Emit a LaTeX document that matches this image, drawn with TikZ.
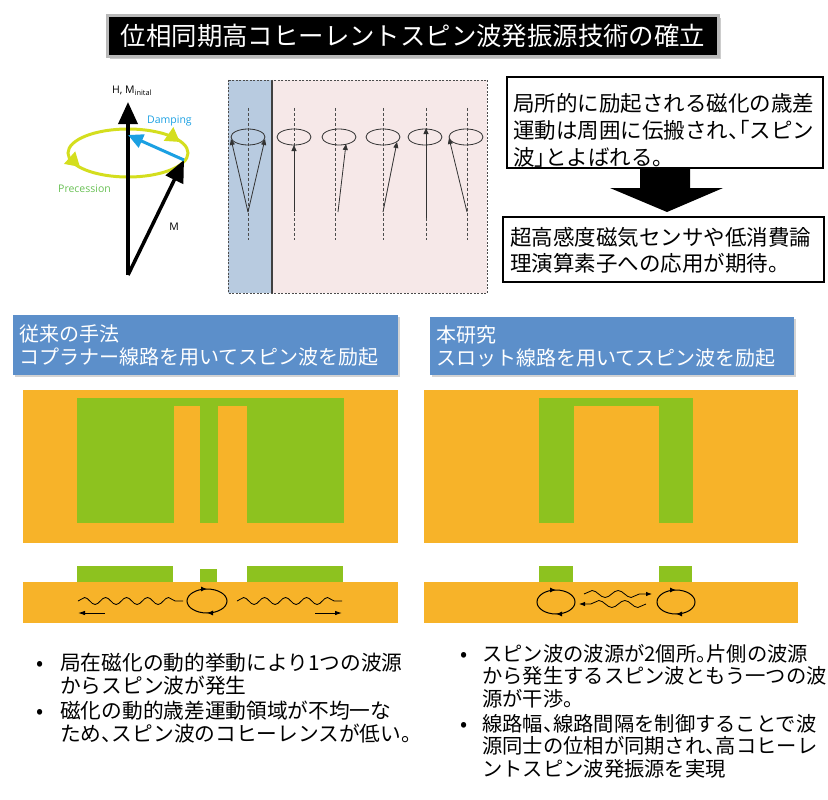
\documentclass[tikz,border=0pt]{standalone}
\usepackage{fontspec}
\setmainfont{Noto Sans CJK JP}[RawFeature=+halt]
\newfontfamily\labelfont{Open Sans}
\usetikzlibrary{arrows.meta,decorations.markings,decorations.pathmorphing,shadows}

\definecolor{film}{RGB}{247,179,41}
\definecolor{metal}{RGB}{141,194,31}
\definecolor{headblue}{RGB}{92,143,202}
\definecolor{drivezone}{RGB}{184,203,224}
\definecolor{spreadzone}{RGB}{246,232,232}
\definecolor{precyellow}{RGB}{212,222,30}
\definecolor{dampblue}{RGB}{27,160,226}
\definecolor{precgreen}{RGB}{104,192,84}

\begin{document}
\begin{tikzpicture}%
	[x=1pt, y=-1pt,
	title/.style={fill=black, draw=gray!55, line width=2.5pt, text=white, minimum width=611pt, minimum height=41pt, inner sep=0pt, font=\fontsize{25.4}{30}\selectfont, drop shadow={shadow xshift=2pt, shadow yshift=-3pt, opacity=.4}},
	header/.style={fill=headblue, text=white, anchor=north west, inner xsep=6pt, inner ysep=0pt, align=left, font=\fontsize{20}{23}\selectfont, drop shadow={shadow xshift=2pt, shadow yshift=-2pt, opacity=.35}},
	note/.style={anchor=base west, inner sep=0pt, align=left, font=\fontsize{21.5}{27}\selectfont},
	frame/.style={draw=black, line width=1.6pt},
	item/.style={anchor=base west, inner sep=0pt, align=left, font=\fontsize{20.7}{23.3}\selectfont},
	dot/.style={anchor=base, inner sep=0pt, font=\fontsize{21}{23}\selectfont},
	vlabel/.style={inner sep=0pt, font=\labelfont\fontsize{10.5}{12}\selectfont},
	bigvec/.style={line width=3.5pt, -{Triangle[width=19pt,length=22pt]}},
	turn/.style={precyellow, line width=3pt, -{Triangle[width=16pt,length=14pt]}},
	spin/.style={line width=.8pt, draw=black!80, -{Triangle[width=5pt,length=6pt]}},
	axis/.style={densely dashed, line width=.7pt, draw=black!70},
	orbit/.style={line width=.8pt, draw=black!80},
	loop/.style={line width=1pt, postaction={decorate}, decoration={markings,
		mark=at position 0.25 with {\arrow{Latex[length=6pt,width=5pt]}},
		mark=at position 0.75 with {\arrow{Latex[length=6pt,width=5pt]}}}},
	wave/.style={line width=.8pt, decorate, decoration={snake, segment length=21pt, amplitude=3.5pt, post length=2pt}},
	travel/.style={line width=.9pt, -{Latex[length=7pt,width=4.5pt]}}]
%
\useasboundingbox (0,0) rectangle (828,800);
%
%% Title bar
%%
\node[title] (title) at (413,36) {位相同期高コヒーレントスピン波発振源技術の確立};
%%
%%
%% Precession of the magnetization
%%
\coordinate (origin) at (128,275);
\coordinate (htip) at (128,102);
\coordinate (mtip) at (184,160);
\coordinate (dtip) at (128,135);
\draw[precyellow, line width=3pt] (128,153) ellipse [x radius=60, y radius=24];
\draw[turn] (70,158) -- (80,167);
\draw[turn] (170,135) -- (180,142);
\draw[bigvec] (origin) -- (htip);
\draw[bigvec] (origin) -- (mtip);
\draw[dampblue, line width=3pt, -{Triangle[width=14pt,length=15pt]}] (mtip) -- (dtip);
\node[vlabel, anchor=base west] (hlabel) at (112,94) {H, M\textsubscript{inital}};
\node[vlabel, anchor=base west, text=dampblue] (damping) at (147,124) {Damping};
\node[vlabel, anchor=base west, text=precgreen] (precession) at (58,192) {Precession};
\node[vlabel] (mlabel) at (174,227) {M};
%%
%%
%% Spin chain: driven region and propagation region
%%
\fill[drivezone] (228,80) rectangle (272,293);
\fill[spreadzone] (272,80) rectangle (487,293);
\draw[black!75, line width=1.2pt] (272,80) -- (272,293);
\draw[black!70, line width=.9pt, dash pattern=on 2pt off 1.5pt] (228,80) rectangle (487,293);
%%
\foreach \x in {248,294,335,383,426,467}
	\draw[axis] (\x,108) -- (\x,240);
\foreach \x in {248,294,339,383,425,466}
	\draw[orbit] (\x,137) ellipse [x radius=17, y radius=8];
%%
\coordinate (s1) at (248,212);
\coordinate (s2) at (294,212);
\coordinate (s3) at (338,212);
\coordinate (s4) at (383,212);
\coordinate (s5) at (426,218);
\coordinate (s6) at (467,212);
\draw[spin] (s1) -- (231,139);
\draw[spin] (s1) -- (265,139);
\draw[spin] (s2) -- (294,145);
\draw[spin] (s3) -- (346,144);
\draw[spin] (s4) -- (397,142);
\draw[spin] (s5) -- (426,128);
\draw[spin] (s6) -- (449,138);
%%
%%
%% Text boxes and block arrow (anchored on the last line)
%%
\draw[frame] (507,77) rectangle (823,168);
\node[note] (spread) at (513,165) {局所的に励起される磁化の歳差\\運動は周囲に伝搬され、「スピン\\波」とよばれる。};
\fill (640,168) -- (690,168) -- (690,188) -- (723,188) -- (667,212) -- (610,188) -- (640,188) -- cycle;
\draw[frame] (503,217) rectangle (824,282);
\node[note, font=\fontsize{21.5}{26}\selectfont] (usage) at (510,271) {超高感度磁気センサや低消費論\\理演算素子への応用が期待。};
%%
%%
%% Section headers
%%
\node[header, text width=373pt, minimum height=60pt] (oldhead) at (13,315) {従来の手法\\コプラナー線路を用いてスピン波を励起};
\node[header, text width=352pt, minimum height=58pt] (newhead) at (430,317) {本研究\\スロット線路を用いてスピン波を励起};
%%
%%
%% Coplanar line: top view and cross section
%%
\fill[film] (23,390) rectangle (398,543);
\fill[metal] (77,398) rectangle (344,523);
\fill[film] (174,406) rectangle (200,523);
\fill[film] (218,406) rectangle (247,523);
\fill[film] (23,582) rectangle (398,623);
\fill[metal] (77,566) rectangle (173,582);
\fill[metal] (200,569) rectangle (217,582);
\fill[metal] (247,566) rectangle (343,582);
\draw[loop] (207,601) ellipse [x radius=20, y radius=12];
\coordinate (lw1) at (78,601);
\coordinate (lw2) at (183,601);
\coordinate (rw1) at (237,601);
\coordinate (rw2) at (342,601);
\draw[wave] (lw1) -- (lw2);
\draw[wave] (rw1) -- (rw2);
\draw[travel] (105,613) -- (78,613);
\draw[travel] (315,613) -- (342,613);
%%
%%
%% Slot line: top view and cross section
%%
\fill[film] (424,390) rectangle (798,543);
\fill[metal] (539,398) rectangle (693,523);
\fill[film] (574,406) rectangle (659,523);
\fill[film] (424,582) rectangle (798,623);
\fill[metal] (539,566) rectangle (573,582);
\fill[metal] (659,566) rectangle (692,582);
\draw[loop] (556,602) ellipse [x radius=19, y radius=12];
\draw[loop] (676,602) ellipse [x radius=19, y radius=12];
\coordinate (uw1) at (584,594);
\coordinate (uw2) at (652,594);
\coordinate (dw1) at (646,604);
\coordinate (dw2) at (579,604);
\draw[wave, -{Latex[length=6pt,width=4.5pt]}, decoration={segment length=26pt}] (uw1) -- (uw2);
\draw[wave, -{Latex[length=6pt,width=4.5pt]}, decoration={segment length=26pt}] (dw1) -- (dw2);
%%
%%
%% Remarks (anchored on the last line)
%%
\node[dot] (ldot1) at (40,670) {•};
\node[item] (lrem1) at (60,693.3) {局在磁化の動的挙動により1つの波源\\からスピン波が発生};
\node[dot] (ldot2) at (40,718) {•};
\node[item] (lrem2) at (60,741.3) {磁化の動的歳差運動領域が不均一な\\ため、スピン波のコヒーレンスが低い。};
\node[dot] (rdot1) at (464,661) {•};
\node[item, font=\fontsize{20.3}{22.5}\selectfont] (rrem1) at (482,706) {スピン波の波源が2個所。片側の波源\\から発生するスピン波ともう一つの波\\源が干渉。};
\node[dot] (rdot2) at (464,731) {•};
\node[item, font=\fontsize{20.3}{22.5}\selectfont] (rrem2) at (482,776) {線路幅、線路間隔を制御することで波\\源同士の位相が同期され、高コヒーレ\\ントスピン波発振源を実現};
%%
\end{tikzpicture}
\end{document}
